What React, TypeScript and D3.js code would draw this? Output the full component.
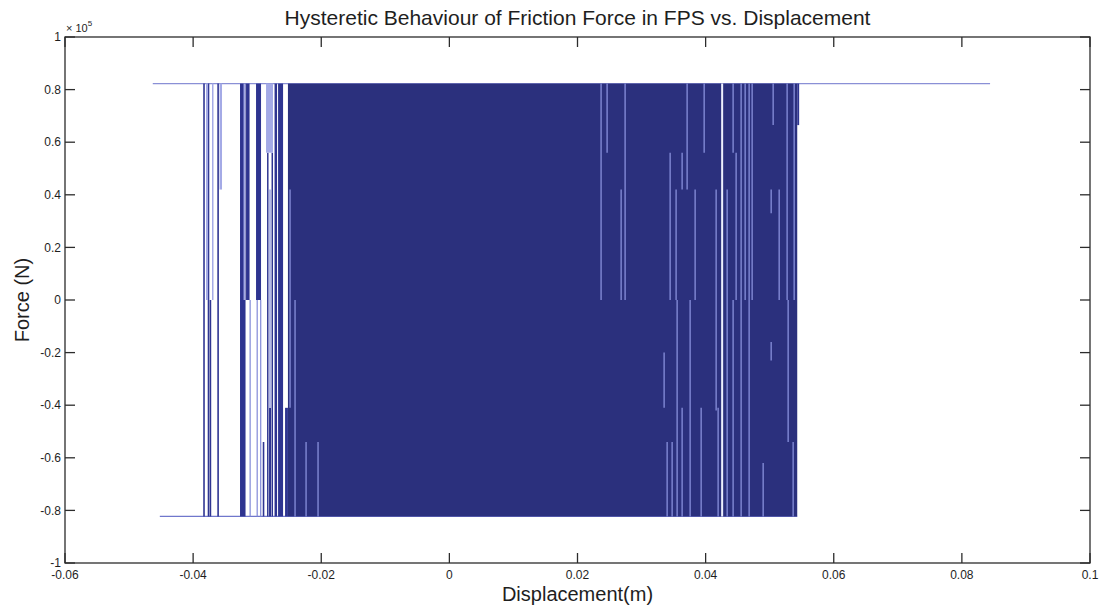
import React, { useEffect, useRef } from "react";
import * as d3 from "d3";

// displacement (m) / force (N) data
const plateauForce = 82300;
const topPlateauX = [-0.0463, 0.0844];
const bottomPlateauX = [-0.0452, 0.0543];
// span swept so densely by reversals that it reads as solid
const denseSpanX = [-0.0252, 0.0543];

// [x0, x1, fTop, fBottom] closely packed dark reversals
const darkBands = [
  [-0.03268, -0.03182, 82300, -82300],
  [-0.03174, -0.03119, 82300, 0],
  [-0.03018, -0.0294, 82300, 0],
  [-0.02846, -0.02823, 56000, -82300],
  [-0.02815, -0.02784, -41000, -82300],
  [-0.02776, -0.02753, 56000, -82300],
  [-0.02729, -0.0269, 82300, -82300],
  [-0.02674, -0.02596, 82300, -82300],
  [-0.02565, -0.0252, -41000, -82300],
  [0.0543, 0.0546, 82300, 66500],
];

// [x0, x1, fTop, fBottom] lighter reversals outside the solid span
const lightBands = [
  [-0.03799, -0.03767, 82300, 0],
  [-0.03705, -0.03682, 82300, 0],
  [-0.03588, -0.03549, 82300, 42000],
  [-0.03213, -0.0319, 82300, 0],
  [-0.02862, -0.02753, 82300, 56000],
];

// [x, fTop, fBottom] single dark reversals
const darkLines = [
  [-0.0383, 82300, -82300],
  [-0.0376, 82300, -82300],
  [-0.0373, 0, -82300],
  [-0.0361, 82300, -82300],
  [-0.02901, -54000, -82300],
];

// [x, fTop, fBottom] single light reversals outside the solid span
const lightLines = [
  [-0.0311, 0, -82300],
  [-0.03, 0, -82300],
  [-0.02945, 0, -82300],
  [-0.028, 42000, -41000],
];

// [x, fTop, fBottom] gaps between loops inside the solid span
const gapLines = [
  [-0.02487, 42000, -41000],
  [-0.02409, 0, -82300],
  [-0.02237, -54000, -82300],
  [-0.0205, -54000, -82300],
  [0.02368, 82300, 0],
  [0.02462, 82300, 56000],
  [0.02681, 42000, 0],
  [0.02743, 82300, 0],
  [0.03352, -20000, -41000],
  [0.03399, -54000, -82300],
  [0.03446, 56000, 0],
  [0.03477, -54000, -82300],
  [0.03539, 42000, 0],
  [0.03555, 0, -82300],
  [0.03633, 56000, 42000],
  [0.03633, -41000, -82300],
  [0.03711, 82300, 42000],
  [0.03758, 0, -82300],
  [0.03836, 42000, 0],
  [0.0393, -41000, -82300],
  [0.03977, 82300, 56000],
  [0.04164, 42000, -42000],
  [0.04195, -41000, -82300],
  [0.04336, 42000, -82300],
  [0.04429, 82300, 56000],
  [0.04429, 0, -82300],
  [0.04476, 56000, 0],
  [0.04554, 82300, -82300],
  [0.04617, 82300, 0],
  [0.04679, 82300, -82300],
  [0.04726, 82300, 0],
  [0.04898, -62000, -82300],
  [0.05023, 42000, 33000],
  [0.05023, -16000, -23000],
  [0.05054, 82300, 66500],
  [0.05148, 42000, 0],
  [0.05272, 82300, 0],
  [0.05288, 0, -54000],
  [0.05366, -54000, -82300],
  [0.05382, 82300, 0],
];

// wide open gaps
const openGaps = [[0.04258, 82300, -82300]];

const xTicks = [-0.06, -0.04, -0.02, 0, 0.02, 0.04, 0.06, 0.08, 0.1];
const xTickLabels = ["-0.06", "-0.04", "-0.02", "0", "0.02", "0.04", "0.06", "0.08", "0.1"];
const yTicks = [-100000, -80000, -60000, -40000, -20000, 0, 20000, 40000, 60000, 80000, 100000];
const yTickLabels = ["-1", "-0.8", "-0.6", "-0.4", "-0.2", "0", "0.2", "0.4", "0.6", "0.8", "1"];

const W = 1101;
const H = 610;
const margin = { left: 65, right: 11, top: 37, bottom: 47 };
const FONT = "'Liberation Sans', Arial, Helvetica, sans-serif";

export default function App() {
  const ref = useRef<SVGSVGElement>(null);

  useEffect(() => {
    const svg = d3.select(ref.current);
    svg.selectAll("*").remove();

    const x = d3.scaleLinear().domain([-0.06, 0.1]).range([margin.left, W - margin.right]);
    const y = d3.scaleLinear().domain([-100000, 100000]).range([H - margin.bottom, margin.top]);

    svg.append("rect").attr("width", W).attr("height", H).attr("fill", "#fff");

    const line = d3
      .line<number[]>()
      .x((d) => x(d[0]))
      .y((d) => y(d[1]));

    // plateaus (sliding at full friction)
    svg
      .append("path")
      .attr("d", line(topPlateauX.map((v) => [v, plateauForce])))
      .attr("stroke", "#8a90d6")
      .attr("stroke-width", 1.2)
      .attr("fill", "none");
    svg
      .append("path")
      .attr("d", line(bottomPlateauX.map((v) => [v, -plateauForce])))
      .attr("stroke", "#7077cc")
      .attr("stroke-width", 1.2)
      .attr("fill", "none");

    // dense loops
    svg
      .append("rect")
      .attr("x", x(denseSpanX[0]))
      .attr("y", y(plateauForce))
      .attr("width", x(denseSpanX[1]) - x(denseSpanX[0]))
      .attr("height", y(-plateauForce) - y(plateauForce))
      .attr("fill", "#2b307d");

    const bands = (data: number[][], color: string) =>
      svg
        .append("g")
        .selectAll("rect")
        .data(data)
        .enter()
        .append("rect")
        .attr("x", (d) => x(d[0]))
        .attr("width", (d) => Math.max(1, x(d[1]) - x(d[0])))
        .attr("y", (d) => y(d[2]))
        .attr("height", (d) => y(d[3]) - y(d[2]))
        .attr("fill", color);

    const verticals = (data: number[][], color: string, w: number) =>
      svg
        .append("g")
        .selectAll("line")
        .data(data)
        .enter()
        .append("line")
        .attr("x1", (d) => x(d[0]))
        .attr("x2", (d) => x(d[0]))
        .attr("y1", (d) => y(d[1]))
        .attr("y2", (d) => y(d[2]))
        .attr("stroke", color)
        .attr("stroke-width", w);

    bands(darkBands, "#2e3490");
    verticals(darkLines, "#2f3592", 1.6);
    bands(lightBands, "#a4aae6");
    verticals(lightLines, "#8289d8", 1.2);
    verticals(gapLines, "#8890dc", 1.3);
    verticals(openGaps, "#eef0fd", 2);

    // axes box
    const x0 = margin.left;
    const x1 = W - margin.right;
    const y0 = H - margin.bottom;
    const y1 = margin.top;
    const axis = svg.append("g").attr("stroke", "#2c2c2c").attr("stroke-width", 1.3);
    axis
      .append("rect")
      .attr("x", x0)
      .attr("y", y1)
      .attr("width", x1 - x0)
      .attr("height", y0 - y1)
      .attr("fill", "none");

    const tl = 10;
    xTicks.forEach((t) => {
      axis.append("line").attr("x1", x(t)).attr("x2", x(t)).attr("y1", y0).attr("y2", y0 - tl);
      axis.append("line").attr("x1", x(t)).attr("x2", x(t)).attr("y1", y1).attr("y2", y1 + tl);
    });
    yTicks.forEach((t) => {
      axis.append("line").attr("x1", x0).attr("x2", x0 + tl).attr("y1", y(t)).attr("y2", y(t));
      axis.append("line").attr("x1", x1).attr("x2", x1 - tl).attr("y1", y(t)).attr("y2", y(t));
    });

    const labels = svg.append("g").attr("font-family", FONT).attr("fill", "#1e1e1e");
    xTicks.forEach((t, i) => {
      labels
        .append("text")
        .attr("x", x(t))
        .attr("y", y0 + 16)
        .attr("text-anchor", "middle")
        .attr("font-size", 12)
        .text(xTickLabels[i]);
    });
    yTicks.forEach((t, i) => {
      labels
        .append("text")
        .attr("x", x0 - 4)
        .attr("y", y(t))
        .attr("dy", "0.35em")
        .attr("text-anchor", "end")
        .attr("font-size", 12)
        .text(yTickLabels[i]);
    });

    // exponent
    const ex = labels.append("text").attr("x", x0 + 1).attr("y", y1 - 5).attr("font-size", 11);
    ex.append("tspan").text("× 10");
    ex.append("tspan").attr("font-size", 8).attr("dy", -6).text("5");

    labels
      .append("text")
      .attr("x", (x0 + x1) / 2)
      .attr("y", 25)
      .attr("text-anchor", "middle")
      .attr("font-size", 21)
      .text("Hysteretic Behaviour of Friction Force in FPS vs. Displacement");

    labels
      .append("text")
      .attr("x", (x0 + x1) / 2)
      .attr("y", 601)
      .attr("text-anchor", "middle")
      .attr("font-size", 20)
      .text("Displacement(m)");

    labels
      .append("text")
      .attr("transform", `translate(29,${(y0 + y1) / 2}) rotate(-90)`)
      .attr("text-anchor", "middle")
      .attr("font-size", 20)
      .text("Force (N)");
  }, []);

  return (
    <svg
      ref={ref}
      width={W}
      height={H}
      style={{ position: "absolute", left: 0, top: 0, display: "block" }}
    />
  );
}
